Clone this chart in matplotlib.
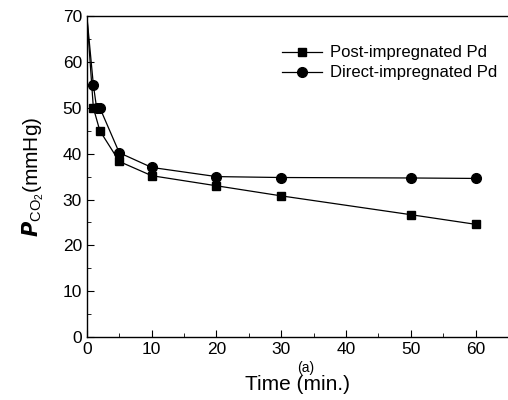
import matplotlib
matplotlib.use("Agg")
import matplotlib.pyplot as plt
from matplotlib.ticker import MultipleLocator

plt.rcParams['font.family'] = ['Liberation Sans', 'DejaVu Sans']

post_t = [0, 1, 2, 5, 10, 20, 30, 50, 60]
post_p = [70, 50, 45, 38.3, 35.2, 33.0, 30.8, 26.7, 24.6]
direct_t = [0, 1, 1.5, 2, 5, 10, 20, 30, 50, 60]
direct_p = [70, 55, 50, 50, 40.2, 37.0, 35.0, 34.8, 34.7, 34.6]

fig = plt.figure(figsize=(5.08, 4.0), dpi=100)
ax = fig.add_axes([0.171, 0.157, 0.829, 0.803])

ax.plot(post_t, post_p, color='black', lw=0.9, marker='s', ms=6,
        markevery=list(range(1, len(post_t))), label='Post-impregnated Pd')
ax.plot(direct_t, direct_p, color='black', lw=0.9, marker='o', ms=7,
        markevery=list(range(1, len(direct_t))), label='Direct-impregnated Pd')

ax.set_xlim(0, 65)
ax.set_ylim(0, 70)
ax.xaxis.set_major_locator(MultipleLocator(10))
ax.xaxis.set_minor_locator(MultipleLocator(5))
ax.yaxis.set_major_locator(MultipleLocator(10))
ax.yaxis.set_minor_locator(MultipleLocator(5))
ax.tick_params(which='both', direction='in', top=False, right=False, labelsize=12.5)
ax.tick_params(which='major', length=5)
ax.tick_params(which='minor', length=3)
for s in ax.spines.values():
    s.set_linewidth(1.0)
ax.spines['right'].set_visible(False)

ax.set_xlabel('Time (min.)', fontsize=15, labelpad=13)
ax.set_ylabel(r'$\mathbfit{P}_{\mathregular{CO_2}}$(mmHg)', fontsize=15, labelpad=12)
ax.text(0.52, -0.074, '(a)', transform=ax.transAxes, fontsize=10, ha='center', va='top')

ax.legend(loc='upper right', bbox_to_anchor=(1.01, 0.955), frameon=False,
          fontsize=12, handlelength=2.4, handletextpad=0.45, labelspacing=0.3)

fig.savefig('out.png', dpi=100)
